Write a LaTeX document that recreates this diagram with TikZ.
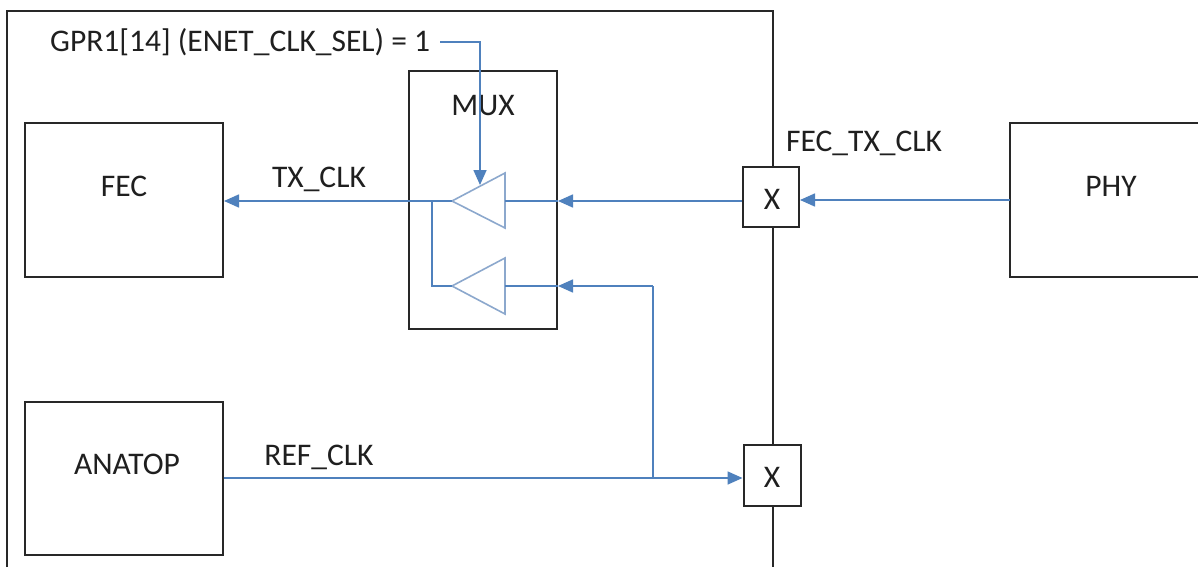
\documentclass[tikz,border=0pt]{standalone}
\usepackage{fontspec}
\setmainfont{Carlito}
\usetikzlibrary{arrows.meta}
\definecolor{sigblue}{RGB}{79,129,189}
\definecolor{buflc}{RGB}{140,168,205}
\definecolor{boxln}{RGB}{40,40,40}
\tikzset{
  blk/.style={draw=boxln, line width=2pt, fill=white, inner sep=0pt},
  lbl/.style={font=\fontsize{31.5}{36}\selectfont, text=black!88, inner sep=0pt},
  sig/.style={draw=sigblue, line width=1.6pt},
  sigarr/.style={sig, -{Triangle[length=15pt,width=13pt]}},
  buf/.style={draw=buflc, line width=1.6pt, line join=miter}
}
\begin{document}
\begin{tikzpicture}[x=1pt,y=-1pt]
\useasboundingbox (0,0) rectangle (1198,567);
\fill[white] (0,0) rectangle (1198,567);
% outer chip boundary
\draw[boxln, line width=2pt] (7,567) -- (7,11) -- (773,11) -- (773,567);
% blocks
\node[blk, minimum width=198pt, minimum height=154pt] (fec) at (124,200) {};
\node[lbl] at (124,186) {FEC};
\node[blk, minimum width=198pt, minimum height=153pt] (anatop) at (124,478) {};
\node[lbl] at (127,464) {ANATOP};
\draw[boxln, line width=2pt] (1210,123) -- (1010,123) -- (1010,277) -- (1210,277);
\coordinate (phyw) at (1010,200);
\node[lbl] (phy) at (1111,186) {PHY};
\node[blk, minimum width=148pt, minimum height=257pt] (mux) at (483,200) {};
\node[lbl] at (483,106) {MUX};
\node[blk, minimum width=56pt, minimum height=60pt] (xtop) at (771,197) {};
\node[lbl] at (772,199) {X};
\node[blk, minimum width=57pt, minimum height=61pt] (xbot) at (772,475) {};
\node[lbl] at (772,477) {X};
% buffers
\coordinate (t1tip) at (452,201);
\coordinate (t1base) at (505,201);
\coordinate (t2tip) at (452,286);
\coordinate (t2base) at (505,286);
\draw[buf] (t1tip) -- (505,173) -- (505,228) -- cycle;
\draw[buf] (t2tip) -- (505,258) -- (505,314) -- cycle;
% labels
\node[lbl, anchor=west] (gpr) at (50,42) {GPR1[14] (ENET\_CLK\_SEL) = 1};
\node[lbl] (txclk) at (319,179) {TX\_CLK};
\node[lbl, anchor=west] (fectx) at (786,143) {FEC\_TX\_CLK};
\node[lbl] (refclk) at (319,457) {REF\_CLK};
% select line
\draw[sigarr] (gpr.east) ++(10pt,0) -- (480,42) -- (480,185);
% TX_CLK out to FEC
\draw[sigarr] (t1tip) -- (fec.east |- t1tip);
\draw[sig] (432,201) -- (432,286) -- (t2tip);
% PHY to X to MUX
\draw[sigarr] (phyw) -- (xtop.east |- phyw);
\draw[sigarr] (xtop.west |- t1base) -- (mux.east |- t1base);
\draw[sig] (mux.east |- t1base) -- (t1base);
% REF_CLK
\coordinate (br) at (653,478);
\draw[sigarr] (anatop.east |- br) -- (xbot.west |- br);
\draw[sig] (br) -- (653,286);
\draw[sigarr] (653,286) -- (mux.east |- t2base);
\draw[sig] (mux.east |- t2base) -- (t2base);
\end{tikzpicture}
\end{document}
